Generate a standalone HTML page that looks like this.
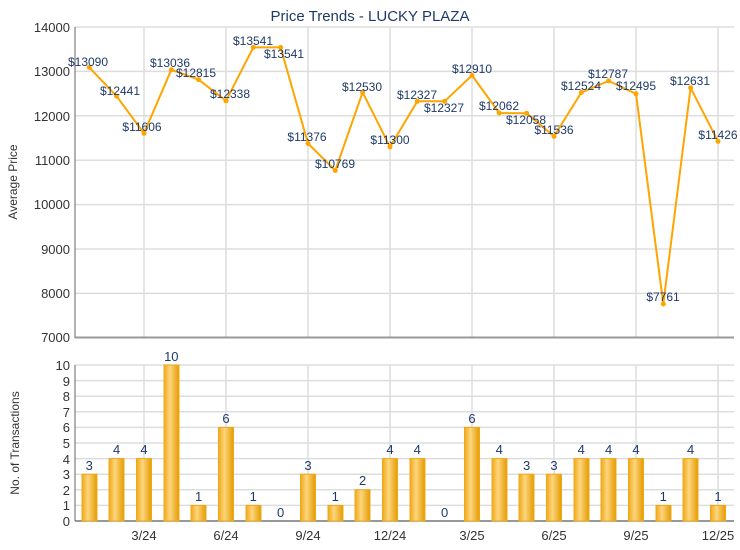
<!DOCTYPE html>
<html><head><meta charset="utf-8"><style>
body{margin:0;background:#fff;}
svg{display:block;font-family:"Liberation Sans",Arial,sans-serif;}
</style></head><body>
<svg width="740" height="550" viewBox="0 0 740 550" xmlns="http://www.w3.org/2000/svg">
<defs>
<linearGradient id="bg" x1="0" x2="1" y1="0" y2="0">
<stop offset="0" stop-color="#f0a818"/><stop offset="0.4" stop-color="#fdd67e"/><stop offset="1" stop-color="#e49b00"/>
</linearGradient>
</defs>
<rect width="740" height="550" fill="#fff"/>
<text x="370" y="21" text-anchor="middle" font-size="15" fill="#1f3a68">Price Trends - LUCKY PLAZA</text>
<g stroke="#dddddd" stroke-width="1.5">
<line x1="75" x2="734" y1="27" y2="27"/><line x1="75" x2="734" y1="71.4" y2="71.4"/><line x1="75" x2="734" y1="115.8" y2="115.8"/><line x1="75" x2="734" y1="160.2" y2="160.2"/><line x1="75" x2="734" y1="204.6" y2="204.6"/><line x1="75" x2="734" y1="249" y2="249"/><line x1="75" x2="734" y1="293.4" y2="293.4"/>
<line x1="144" x2="144" y1="27" y2="337"/><line x1="226" x2="226" y1="27" y2="337"/><line x1="308" x2="308" y1="27" y2="337"/><line x1="390" x2="390" y1="27" y2="337"/><line x1="472" x2="472" y1="27" y2="337"/><line x1="554" x2="554" y1="27" y2="337"/><line x1="636" x2="636" y1="27" y2="337"/><line x1="718" x2="718" y1="27" y2="337"/>
<line x1="75" x2="734" y1="365" y2="365"/><line x1="75" x2="734" y1="380.6" y2="380.6"/><line x1="75" x2="734" y1="396.2" y2="396.2"/><line x1="75" x2="734" y1="411.8" y2="411.8"/><line x1="75" x2="734" y1="427.4" y2="427.4"/><line x1="75" x2="734" y1="443" y2="443"/><line x1="75" x2="734" y1="458.6" y2="458.6"/><line x1="75" x2="734" y1="474.2" y2="474.2"/><line x1="75" x2="734" y1="489.8" y2="489.8"/><line x1="75" x2="734" y1="505.4" y2="505.4"/>
<line x1="144" x2="144" y1="365" y2="521"/><line x1="226" x2="226" y1="365" y2="521"/><line x1="308" x2="308" y1="365" y2="521"/><line x1="390" x2="390" y1="365" y2="521"/><line x1="472" x2="472" y1="365" y2="521"/><line x1="554" x2="554" y1="365" y2="521"/><line x1="636" x2="636" y1="365" y2="521"/><line x1="718" x2="718" y1="365" y2="521"/>
</g>
<line x1="75" x2="75" y1="27" y2="338" stroke="#666" stroke-width="1"/>
<line x1="75" x2="734" y1="337.5" y2="337.5" stroke="#999" stroke-width="2"/>
<line x1="75" x2="75" y1="365" y2="521" stroke="#666" stroke-width="1"/>
<line x1="75" x2="734" y1="521" y2="521" stroke="#777" stroke-width="1.5"/>
<g font-size="13" fill="#333" text-anchor="end">
<text x="70" y="32">14000</text><text x="70" y="76">13000</text><text x="70" y="121">12000</text><text x="70" y="165">11000</text><text x="70" y="209">10000</text><text x="70" y="254">9000</text><text x="70" y="298">8000</text><text x="70" y="342">7000</text>
<text x="70" y="370">10</text><text x="70" y="386">9</text><text x="70" y="401">8</text><text x="70" y="417">7</text><text x="70" y="432">6</text><text x="70" y="448">5</text><text x="70" y="464">4</text><text x="70" y="479">3</text><text x="70" y="495">2</text><text x="70" y="510">1</text><text x="70" y="526">0</text>
</g>
<text transform="translate(17,182) rotate(-90)" text-anchor="middle" font-size="12" fill="#333">Average Price</text>
<text transform="translate(19,443) rotate(-90)" text-anchor="middle" font-size="12" fill="#333">No. of Transactions</text>
<g font-size="13" fill="#333" text-anchor="middle">
<text x="144" y="540">3/24</text><text x="226" y="540">6/24</text><text x="308" y="540">9/24</text><text x="390" y="540">12/24</text><text x="472" y="540">3/25</text><text x="554" y="540">6/25</text><text x="636" y="540">9/25</text><text x="718" y="540">12/25</text>
</g>
<polyline fill="none" stroke="#ffa500" stroke-width="2" stroke-linejoin="round" points="89.3,67.4 116.6,96.2 144,133.3 171.3,69.8 198.6,79.6 226,100.8 253.3,47.4 280.6,47.4 308,143.5 335.3,170.5 362.6,92.3 390,146.9 417.3,101.3 444.6,101.3 472,75.4 499.3,113 526.6,113.2 554,136.4 581.3,92.5 608.6,80.9 636,93.8 663.3,304 690.6,87.8 718,141.3"/>
<g fill="#ffa500">
<circle cx="89.3" cy="67.4" r="2.5"/><circle cx="116.6" cy="96.2" r="2.5"/><circle cx="144" cy="133.3" r="2.5"/><circle cx="171.3" cy="69.8" r="2.5"/><circle cx="198.6" cy="79.6" r="2.5"/><circle cx="226" cy="100.8" r="2.5"/><circle cx="253.3" cy="47.4" r="2.5"/><circle cx="280.6" cy="47.4" r="2.5"/><circle cx="308" cy="143.5" r="2.5"/><circle cx="335.3" cy="170.5" r="2.5"/><circle cx="362.6" cy="92.3" r="2.5"/><circle cx="390" cy="146.9" r="2.5"/><circle cx="417.3" cy="101.3" r="2.5"/><circle cx="444.6" cy="101.3" r="2.5"/><circle cx="472" cy="75.4" r="2.5"/><circle cx="499.3" cy="113" r="2.5"/><circle cx="526.6" cy="113.2" r="2.5"/><circle cx="554" cy="136.4" r="2.5"/><circle cx="581.3" cy="92.5" r="2.5"/><circle cx="608.6" cy="80.9" r="2.5"/><circle cx="636" cy="93.8" r="2.5"/><circle cx="663.3" cy="304" r="2.5"/><circle cx="690.6" cy="87.8" r="2.5"/><circle cx="718" cy="141.3" r="2.5"/>
</g>
<g font-size="12" fill="#1f3a68" text-anchor="middle" dominant-baseline="central">
<text x="88" y="62">$13090</text><text x="120" y="91">$12441</text><text x="142" y="127">$11606</text><text x="170" y="63">$13036</text><text x="196" y="73">$12815</text><text x="230" y="94">$12338</text><text x="253" y="41">$13541</text><text x="284" y="54">$13541</text><text x="307" y="137">$11376</text><text x="335" y="164">$10769</text><text x="362" y="87">$12530</text><text x="390" y="140">$11300</text><text x="417" y="95">$12327</text><text x="444" y="108">$12327</text><text x="472" y="69">$12910</text><text x="499" y="106">$12062</text><text x="526" y="120">$12058</text><text x="554" y="130">$11536</text><text x="581" y="86">$12524</text><text x="608" y="74">$12787</text><text x="636" y="86">$12495</text><text x="663" y="297">$7761</text><text x="690" y="81">$12631</text><text x="718" y="135">$11426</text>
</g>
<g fill="url(#bg)" stroke="#f0a818" stroke-width="1">
<rect x="82" y="474.2" width="15" height="46.8"/><rect x="109" y="458.6" width="15" height="62.4"/><rect x="136.5" y="458.6" width="15" height="62.4"/><rect x="164" y="365" width="15" height="156"/><rect x="191" y="505.4" width="15" height="15.6"/><rect x="218.5" y="427.4" width="15" height="93.6"/><rect x="246" y="505.4" width="15" height="15.6"/><rect x="300.5" y="474.2" width="15" height="46.8"/><rect x="328" y="505.4" width="15" height="15.6"/><rect x="355" y="489.8" width="15" height="31.2"/><rect x="382.5" y="458.6" width="15" height="62.4"/><rect x="410" y="458.6" width="15" height="62.4"/><rect x="464.5" y="427.4" width="15" height="93.6"/><rect x="492" y="458.6" width="15" height="62.4"/><rect x="519" y="474.2" width="15" height="46.8"/><rect x="546.5" y="474.2" width="15" height="46.8"/><rect x="574" y="458.6" width="15" height="62.4"/><rect x="601" y="458.6" width="15" height="62.4"/><rect x="628.5" y="458.6" width="15" height="62.4"/><rect x="656" y="505.4" width="15" height="15.6"/><rect x="683" y="458.6" width="15" height="62.4"/><rect x="710.5" y="505.4" width="15" height="15.6"/>
</g>
<g font-size="13" fill="#1f3a68" text-anchor="middle">
<text x="89.3" y="470">3</text><text x="116.6" y="454">4</text><text x="144" y="454">4</text><text x="171.3" y="361">10</text><text x="198.6" y="501">1</text><text x="226" y="423">6</text><text x="253.3" y="501">1</text><text x="280.6" y="517">0</text><text x="308" y="470">3</text><text x="335.3" y="501">1</text><text x="362.6" y="485">2</text><text x="390" y="454">4</text><text x="417.3" y="454">4</text><text x="444.6" y="517">0</text><text x="472" y="423">6</text><text x="499.3" y="454">4</text><text x="526.6" y="470">3</text><text x="554" y="470">3</text><text x="581.3" y="454">4</text><text x="608.6" y="454">4</text><text x="636" y="454">4</text><text x="663.3" y="501">1</text><text x="690.6" y="454">4</text><text x="718" y="501">1</text>
</g>
</svg>
</body></html>
